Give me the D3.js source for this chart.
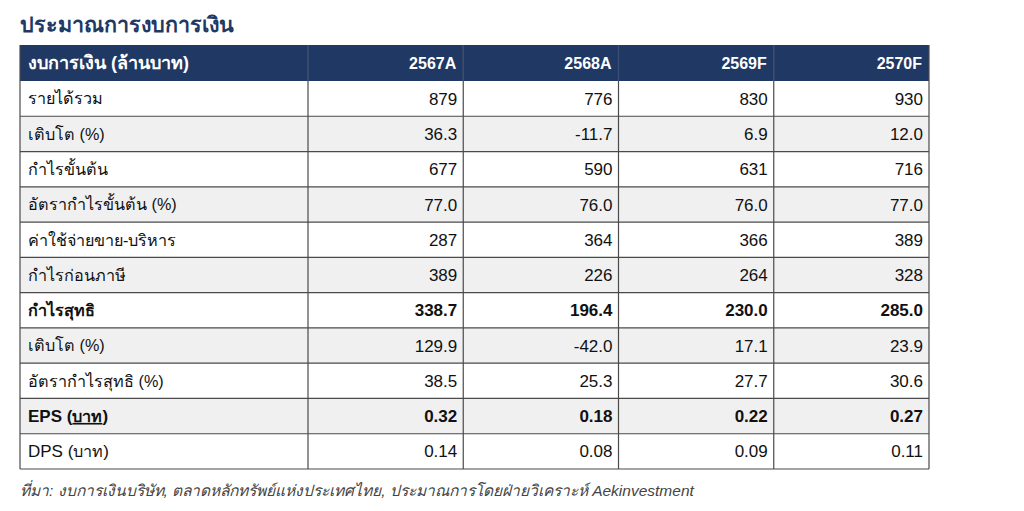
<!DOCTYPE html>
<html><head><meta charset="utf-8">
<script src="https://cdn.jsdelivr.net/npm/d3@7"></script>
<style>
html,body{margin:0;padding:0;background:#fff;}
svg{display:block;font-family:"Liberation Sans",Arial,"Noto Sans",sans-serif;}
</style></head>
<body><svg id="c" width="1024" height="511"></svg>
<script>
const title = "ประมาณการงบการเงิน";
const headerLabel = "งบการเงิน (ล้านบาท)";
const years = ["2567A","2568A","2569F","2570F"];
const rowLabels = ["รายได้รวม","เติบโต (%)","กำไรขั้นต้น","อัตรากำไรขั้นต้น (%)","ค่าใช้จ่ายขาย-บริหาร","กำไรก่อนภาษี","กำไรสุทธิ","เติบโต (%)","อัตรากำไรสุทธิ (%)","EPS (บาท)","DPS (บาท)"];
const v2567 = [879, 36.3, 677, 77.0, 287, 389, 338.7, 129.9, 38.5, 0.32, 0.14];
const v2568 = [776, -11.7, 590, 76.0, 364, 226, 196.4, -42.0, 25.3, 0.18, 0.08];
const v2569 = [830, 6.9, 631, 76.0, 366, 264, 230.0, 17.1, 27.7, 0.22, 0.09];
const v2570 = [930, 12.0, 716, 77.0, 389, 328, 285.0, 23.9, 30.6, 0.27, 0.11];
const decimals = [0,1,0,1,0,0,1,1,1,2,2];
const boldRows = [6,9];
const source = "ที่มา: งบการเงินบริษัท, ตลาดหลักทรัพย์แห่งประเทศไทย, ประมาณการโดยฝ่ายวิเคราะห์ Aekinvestment";

const series = [v2567, v2568, v2569, v2570];
const svg = d3.select("#c");
const L = 20, R = 929, labelW = 288, headTop = 45, headBot = 81, bottom = 469;
const navy = "#1f3864";

const x = d3.scaleBand().domain(years).range([L + labelW, R]);
const y = d3.scaleBand().domain(d3.range(rowLabels.length)).range([headBot, bottom]);

svg.append("text").attr("x", L).attr("y", 32).attr("fill", navy)
  .attr("font-size", 21.5).attr("font-weight", "bold").text(title);

// header
svg.append("rect").attr("x", L).attr("y", headTop).attr("width", R - L).attr("height", headBot - headTop).attr("fill", navy);
svg.append("text").attr("x", L + 8).attr("y", (headTop + headBot) / 2).attr("dy", "0.36em")
  .attr("fill", "#fff").attr("font-size", 18).attr("font-weight", "bold").text(headerLabel);
svg.selectAll("text.yr").data(years).join("text").attr("class", "yr")
  .attr("x", d => x(d) + x.bandwidth() - 7).attr("y", (headTop + headBot) / 2).attr("dy", "0.36em")
  .attr("text-anchor", "end").attr("fill", "#fff").attr("font-size", 16).attr("font-weight", "bold").text(d => d);

// rows
const rows = svg.selectAll("g.row").data(rowLabels).join("g").attr("class", "row");
rows.append("rect").attr("x", L).attr("y", (d, i) => y(i)).attr("width", R - L).attr("height", y.bandwidth())
  .attr("fill", (d, i) => i % 2 === 1 ? "#f0f0f0" : "#fff");
rows.each(function (d, i) {
  const g = d3.select(this);
  const bold = boldRows.includes(i);
  const t = g.append("text").attr("x", L + 8).attr("y", y(i) + y.bandwidth() / 2).attr("dy", "0.36em")
    .attr("fill", "#111").attr("font-size", 16.2).attr("font-weight", bold ? "bold" : "normal");
  if (i === 9) {
    t.append("tspan").attr("font-size", 17).text("EPS (");
    t.append("tspan").attr("text-decoration", "underline").text("บาท");
    t.append("tspan").attr("font-size", 17).text(")");
  } else if (i === 10) {
    t.append("tspan").attr("font-size", 17).text("DPS (");
    t.append("tspan").text("บาท");
    t.append("tspan").attr("font-size", 17).text(")");
  } else t.text(d);
  const fmt = d3.format("." + decimals[i] + "f");
  years.forEach((yr, j) => {
    g.append("text").attr("x", x(yr) + x.bandwidth() - 6).attr("y", y(i) + y.bandwidth() / 2).attr("dy", "0.36em")
      .attr("text-anchor", "end").attr("fill", "#111").attr("font-size", 17)
      .attr("font-weight", bold ? "bold" : "normal").text(fmt(series[j][i]).replace("−", "-"));
  });
});

// grid lines
const lineC = "#4a4a4a";
const hs = d3.range(rowLabels.length + 1).map(i => i < rowLabels.length ? y(i) : bottom);
svg.selectAll("line.h").data(hs.slice(1)).join("line").attr("class", "h")
  .attr("x1", L).attr("x2", R).attr("y1", d => d).attr("y2", d => d).attr("stroke", lineC).attr("stroke-width", 1.2);
const vs = [L].concat(years.map(d => x(d))).concat([R]);
svg.selectAll("line.v").data(vs).join("line").attr("class", "v")
  .attr("x1", d => d).attr("x2", d => d).attr("y1", headTop)
  .attr("y2", bottom).attr("stroke", lineC).attr("stroke-width", 1.2);
svg.selectAll("line.hv").data(vs.slice(1, -1)).join("line").attr("class", "hv")
  .attr("x1", d => d).attr("x2", d => d).attr("y1", headTop).attr("y2", headBot).attr("stroke", "#3a4f78").attr("stroke-width", 1.2);

svg.append("text").attr("x", L).attr("y", 496).attr("fill", "#444").attr("font-size", 15.5)
  .attr("font-style", "italic").text(source);
</script></body></html>
